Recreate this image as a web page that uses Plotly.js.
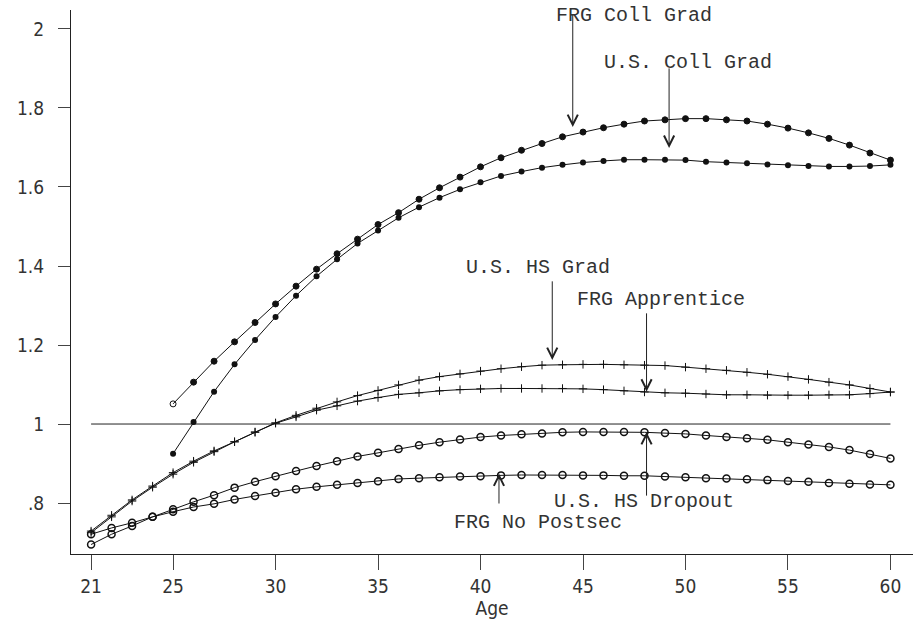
<!DOCTYPE html>
<html>
<head>
<meta charset="utf-8">
<script src="https://cdn.plot.ly/plotly-3.0.1.min.js"></script>
<style>html,body{margin:0;padding:0;background:#fff;}#chart{width:919px;height:624px;}</style>
</head>
<body>
<div id="chart"></div>
<script>
// ---- data ----
var agesFull = [21,22,23,24,25,26,27,28,29,30,31,32,33,34,35,36,37,38,39,40,41,42,43,44,45,46,47,48,49,50,51,52,53,54,55,56,57,58,59,60];
var agesColl = [25,26,27,28,29,30,31,32,33,34,35,36,37,38,39,40,41,42,43,44,45,46,47,48,49,50,51,52,53,54,55,56,57,58,59,60];

var frgCollGrad = [1.051,1.106,1.159,1.208,1.257,1.304,1.349,1.392,1.431,1.468,1.505,1.535,1.569,1.598,1.625,1.651,1.674,1.693,1.710,1.727,1.739,1.750,1.759,1.767,1.770,1.773,1.773,1.770,1.767,1.759,1.749,1.737,1.723,1.706,1.686,1.668];
var usCollGrad = [0.925,1.005,1.082,1.151,1.213,1.271,1.325,1.374,1.417,1.457,1.490,1.522,1.549,1.573,1.594,1.612,1.628,1.639,1.649,1.656,1.662,1.666,1.669,1.669,1.669,1.668,1.664,1.662,1.660,1.657,1.655,1.653,1.652,1.652,1.653,1.656];
var usHSGrad = [0.729,0.769,0.808,0.843,0.877,0.906,0.932,0.955,0.980,1.003,1.022,1.040,1.056,1.072,1.085,1.099,1.111,1.120,1.127,1.134,1.140,1.145,1.149,1.150,1.151,1.151,1.150,1.149,1.148,1.144,1.140,1.136,1.131,1.126,1.120,1.113,1.106,1.099,1.090,1.081];
var frgApprentice = [0.725,0.765,0.805,0.840,0.873,0.903,0.930,0.955,0.979,1.002,1.018,1.035,1.046,1.058,1.067,1.075,1.079,1.084,1.087,1.089,1.090,1.090,1.090,1.090,1.089,1.087,1.084,1.081,1.079,1.078,1.076,1.074,1.074,1.073,1.073,1.073,1.074,1.074,1.077,1.081];
var usHSDropout = [0.695,0.721,0.742,0.765,0.784,0.803,0.820,0.839,0.854,0.868,0.881,0.894,0.906,0.918,0.927,0.937,0.946,0.954,0.961,0.967,0.971,0.974,0.976,0.979,0.980,0.980,0.980,0.979,0.977,0.975,0.971,0.967,0.964,0.960,0.954,0.948,0.942,0.934,0.924,0.913];
var frgNoPostsec = [0.721,0.737,0.750,0.765,0.778,0.790,0.798,0.809,0.818,0.826,0.835,0.841,0.846,0.851,0.855,0.861,0.863,0.865,0.867,0.868,0.870,0.871,0.871,0.871,0.870,0.870,0.869,0.869,0.867,0.865,0.863,0.862,0.860,0.858,0.856,0.854,0.851,0.849,0.847,0.846];

var refX = [21, 60];
var refY = [1, 1];

var xTickVals = [21,25,30,35,40,45,50,55,60];
var xTickText = ['21','25','30','35','40','45','50','55','60'];
var yTickVals = [0.8,1,1.2,1.4,1.6,1.8,2];
var yTickText = ['.8','1','1.2','1.4','1.6','1.8','2'];

// labels: [text, textX, textY, arrowX, tailY, tipY]
var labelText = ['FRG Coll Grad','U.S. Coll Grad','U.S. HS Grad','FRG Apprentice','U.S. HS Dropout','FRG No Postsec'];
var labelX    = [47.5, 50.1, 42.8, 48.8, 48.0, 42.8];
var labelY    = [2.035, 1.916, 1.395, 1.314, 0.803, 0.752];
var arrowX    = [44.5, 49.2, 43.5, 48.1, 48.1, 40.9];
var arrowTail = [2.040, 1.904, 1.365, 1.284, 0.815, 0.795];
var arrowTip  = [1.752, 1.699, 1.162, 1.082, 0.980, 0.875];

// ---- styles ----
var ink = '#111';
var fontFam = '"Liberation Mono", "DejaVu Sans Mono", monospace';
var tickFam = '"Liberation Sans Narrow", "DejaVu Sans Condensed", "Liberation Sans", sans-serif';

var frgSymbols = agesColl.map(function(a, i){ return i === 0 ? 'circle-open' : 'circle'; });

var traces = [
  {x: refX, y: refY, mode: 'lines', line: {color: '#222', width: 1}, hoverinfo: 'skip'},
  {x: agesColl, y: frgCollGrad, mode: 'lines+markers', line: {color: ink, width: 1},
   marker: {symbol: frgSymbols, size: 6, color: ink, line: {color: ink, width: 1}}},
  {x: agesColl, y: usCollGrad, mode: 'lines+markers', line: {color: ink, width: 1},
   marker: {symbol: 'circle', size: 6, color: ink}},
  {x: agesFull, y: usHSGrad, mode: 'lines+markers', line: {color: ink, width: 1},
   marker: {symbol: 'cross-thin', size: 6, color: ink, line: {color: ink, width: 1}}},
  {x: agesFull, y: frgApprentice, mode: 'lines+markers', line: {color: ink, width: 1},
   marker: {symbol: 'cross-thin', size: 6, color: ink, line: {color: ink, width: 1}}},
  {x: agesFull, y: usHSDropout, mode: 'lines+markers', line: {color: ink, width: 1},
   marker: {symbol: 'circle-open', size: 7, color: ink, line: {color: ink, width: 1.5}}},
  {x: agesFull, y: frgNoPostsec, mode: 'lines+markers', line: {color: ink, width: 1},
   marker: {symbol: 'circle-open', size: 7, color: ink, line: {color: ink, width: 1.5}}}
];

var annotations = [];
for (var i = 0; i < labelText.length; i++) {
  annotations.push({
    x: arrowX[i], y: arrowTip[i], xref: 'x', yref: 'y',
    ax: arrowX[i], ay: arrowTail[i], axref: 'x', ayref: 'y',
    text: '', showarrow: true, arrowhead: 5, arrowsize: 2, arrowwidth: 1, arrowcolor: '#222'
  });
  annotations.push({
    x: labelX[i], y: labelY[i], xref: 'x', yref: 'y', showarrow: false,
    text: labelText[i], font: {family: fontFam, size: 20, color: '#333'},
    xanchor: 'center', yanchor: 'middle'
  });
}

var layout = {
  width: 919, height: 624,
  margin: {l: 71, r: 6, t: 10, b: 70},
  paper_bgcolor: '#fff', plot_bgcolor: '#fff',
  showlegend: false,
  xaxis: {
    range: [20.02, 61.1], showgrid: false, zeroline: false,
    showline: true, linecolor: '#222', linewidth: 1,
    ticks: 'outside', ticklen: 15, tickcolor: '#444', tickwidth: 1,
    tickvals: xTickVals, ticktext: xTickText,
    tickfont: {family: tickFam, size: 19, color: '#333'},
    title: {text: 'Age', font: {family: tickFam, size: 19, color: '#333'}, standoff: 0}
  },
  yaxis: {
    range: [0.671, 2.048], showgrid: false, zeroline: false,
    showline: true, linecolor: '#222', linewidth: 1,
    ticks: 'outside', ticklen: 12, tickcolor: '#444', tickwidth: 1,
    tickvals: yTickVals, ticktext: yTickText,
    tickfont: {family: tickFam, size: 19, color: '#333'},
    ticklabelstandoff: 10
  },
  annotations: annotations
};

Plotly.newPlot('chart', traces, layout, {staticPlot: true, displayModeBar: false});
</script>
</body>
</html>
